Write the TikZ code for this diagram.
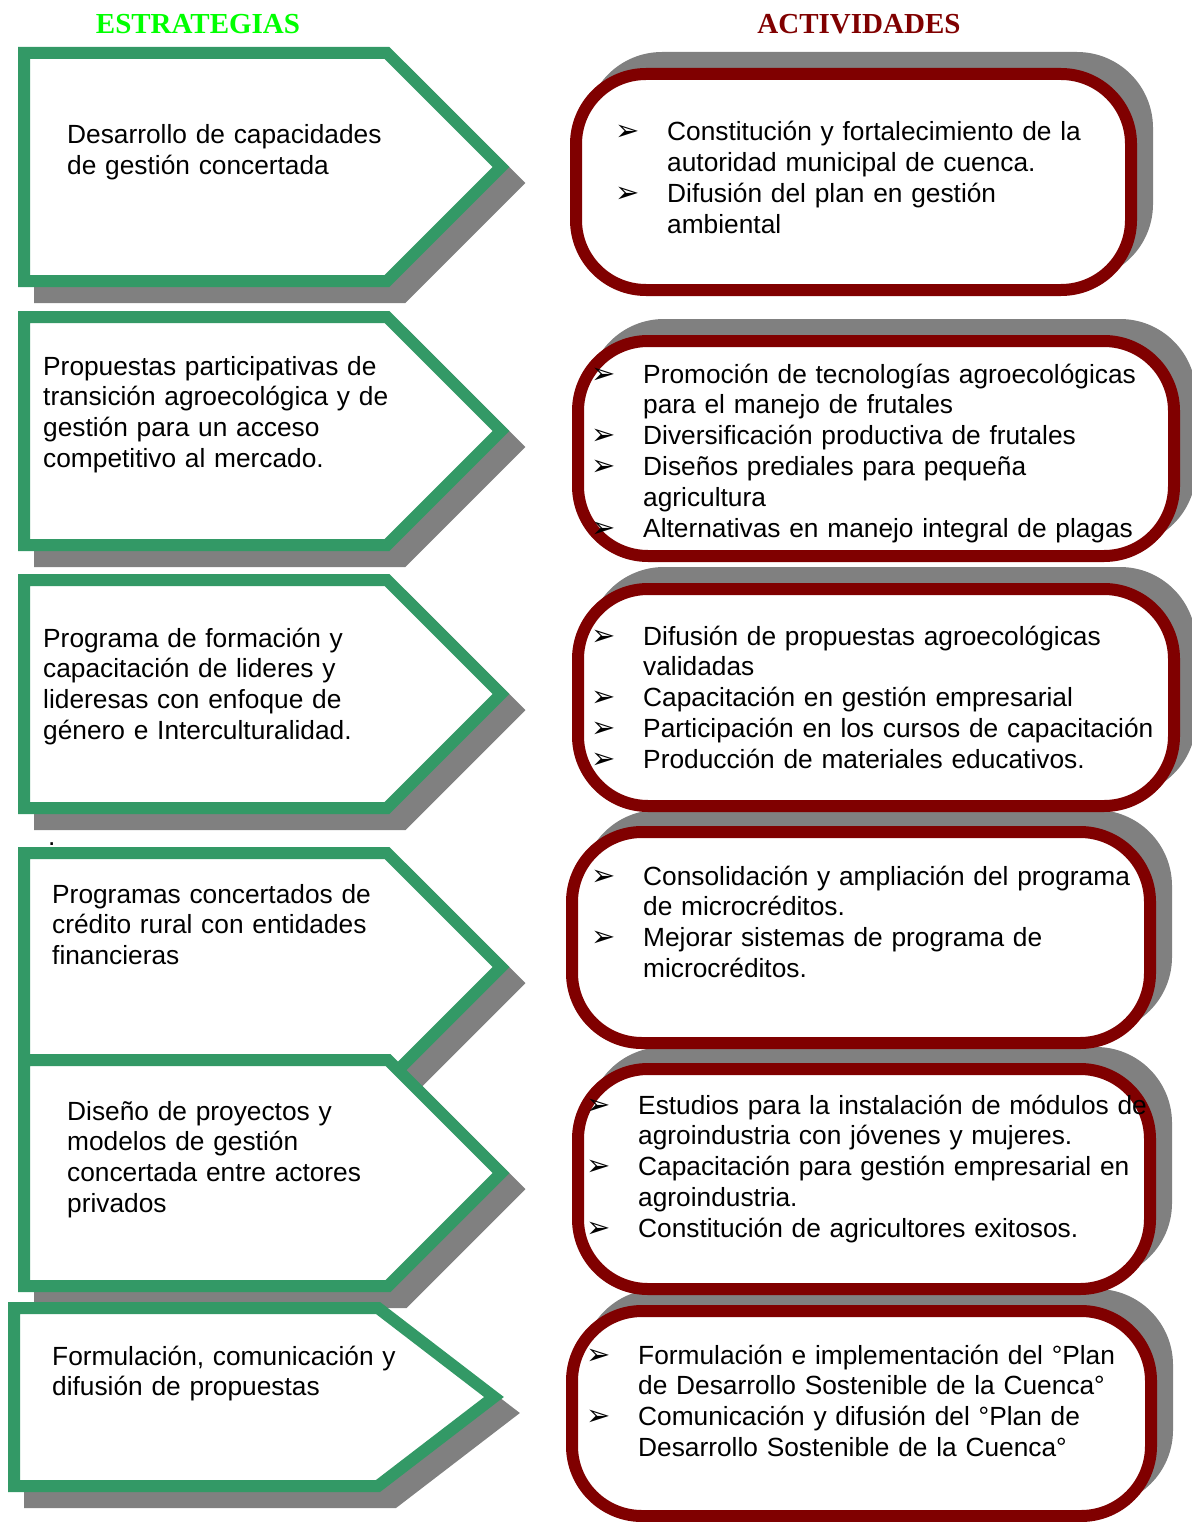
\documentclass[tikz,border=0pt]{standalone}
\usepackage{fontspec}
\setmainfont{Liberation Sans}
\newfontfamily\titulofont{Liberation Serif}
\newfontfamily\vinetafont{DejaVu Sans}

\definecolor{verdeest}{RGB}{51,153,102}
\definecolor{verdetit}{RGB}{0,255,0}
\definecolor{rojoact}{RGB}{128,0,0}
\definecolor{grissombra}{RGB}{128,128,128}

\newcommand\vineta{\leavevmode\llap{{\vinetafont\fontsize{29}{29}\selectfont ➢}\hspace{27pt}}}

\tikzset{
  titulo/.style={inner sep=0pt, font=\titulofont\bfseries\fontsize{29}{29}\selectfont},
  estrategia/.style={draw=verdeest, fill=white, line width=12pt, line join=miter},
  actividad/.style={draw=rojoact, fill=white, line width=12pt, rounded corners=70pt},
  sombra/.style={draw=grissombra, fill=grissombra, line width=12pt},
  texto/.style={anchor=base west, inner sep=0pt, text width=600pt, align=left,
    font=\fontsize{26.3}{30.8}\selectfont},
}

\begin{document}
\begin{tikzpicture}[x=1pt, y=-1pt]
  \useasboundingbox (0,0) rectangle (1191,1522);

  \node[titulo, text=verdetit] (estrategias) at (198,24) {ESTRATEGIAS};
  \node[titulo, text=rojoact] (actividades) at (859,24) {ACTIVIDADES};

  % estrategias
  \foreach \arriba/\abajo in {53/281, 317/545, 580/808, 853/1081, 1060/1286}{
    \filldraw[sombra, shift={(16,16)}] (24,\arriba) -- ({501-(\abajo-\arriba)/2},\arriba)
      -- (501,{(\arriba+\abajo)/2}) -- ({501-(\abajo-\arriba)/2},\abajo) -- (24,\abajo) -- cycle;
    \filldraw[estrategia] (24,\arriba) -- ({501-(\abajo-\arriba)/2},\arriba)
      -- (501,{(\arriba+\abajo)/2}) -- ({501-(\abajo-\arriba)/2},\abajo) -- (24,\abajo) -- cycle;
  }
  \filldraw[sombra, shift={(16,16)}] (14,1308) -- (378,1308) -- (494,1397) -- (378,1486) -- (14,1486) -- cycle;
  \filldraw[estrategia] (14,1308) -- (378,1308) -- (494,1397) -- (378,1486) -- (14,1486) -- cycle;

  \node[texto] (est1) at (67,144) {Desarrollo de capacidades\\de gestión concertada};
  \node[texto] (est2) at (43,375) {Propuestas participativas de\\transición agroecológica y de\\gestión para un acceso\\competitivo al mercado.};
  \node[texto] (est3) at (43,647) {Programa de formación y\\capacitación de lideres y\\lideresas con enfoque de\\género e Interculturalidad.};
  \node[texto] (punto) at (48,845) {.};
  \node[texto] (est4) at (52,903) {Programas concertados de\\crédito rural con entidades\\financieras};
  \node[texto] (est5) at (67,1120) {Diseño de proyectos y\\modelos de gestión\\concertada entre actores\\privados};
  \node[texto] (est6) at (52,1365) {Formulación, comunicación y\\difusión de propuestas};

  % actividades
  \foreach \izq/\arriba/\der/\abajo in {576/74/1131/290, 578/341/1174/556, 578/589/1174/806,
      572/832/1150/1043, 578/1069/1150/1289, 572/1311/1151/1516}{
    \filldraw[sombra, rounded corners=70pt, shift={(16,-16)}] (\izq,\arriba) rectangle (\der,\abajo);
  }
  \foreach \izq/\arriba/\der/\abajo in {576/74/1131/290, 578/341/1174/556, 578/589/1174/806,
      572/832/1150/1043, 578/1069/1150/1289, 572/1311/1151/1516}{
    \filldraw[actividad] (\izq,\arriba) rectangle (\der,\abajo);
  }

  \node[texto] (act1) at (667,141) {\vineta Constitución y fortalecimiento de la\\autoridad municipal de cuenca.\\
    \vineta Difusión del plan en gestión\\ambiental};
  \node[texto] (act2) at (643,383) {\vineta Promoción de tecnologías agroecológicas\\para el manejo de frutales\\
    \vineta Diversificación productiva de frutales\\
    \vineta Diseños prediales para pequeña\\agricultura\\
    \vineta Alternativas en manejo integral de plagas};
  \node[texto] (act3) at (643,645) {\vineta Difusión de propuestas agroecológicas\\validadas\\
    \vineta Capacitación en gestión empresarial\\
    \vineta Participación en los cursos de capacitación\\
    \vineta Producción de materiales educativos.};
  \node[texto] (act4) at (643,885) {\vineta Consolidación y ampliación del programa\\de microcréditos.\\
    \vineta Mejorar sistemas de programa de\\microcréditos.};
  \node[texto] (act5) at (638,1114) {\vineta Estudios para la instalación de módulos de\\agroindustria con jóvenes y mujeres.\\
    \vineta Capacitación para gestión empresarial en\\agroindustria.\\
    \vineta Constitución de agricultores exitosos.};
  \node[texto] (act6) at (638,1364) {\vineta Formulación e implementación del °Plan\\de Desarrollo Sostenible de la Cuenca°\\
    \vineta Comunicación y difusión del °Plan de\\Desarrollo Sostenible de la Cuenca°};
\end{tikzpicture}
\end{document}
